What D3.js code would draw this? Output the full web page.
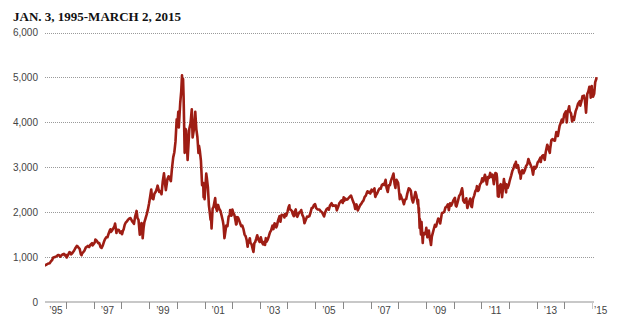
<!DOCTYPE html>
<html><head><meta charset="utf-8">
<script src="https://cdn.jsdelivr.net/npm/d3@7"></script>
<style>body{margin:0;background:#fff}svg{display:block}</style>
</head><body>
<svg id="chart" width="620" height="323"></svg>
<script>
const title = "JAN. 3, 1995-MARCH 2, 2015";
const yTickValues = [0, 1000, 2000, 3000, 4000, 5000, 6000];
const yearTickValues = d3.range(1996, 2016);
const yearLabelValues = [1995, 1997, 1999, 2001, 2003, 2005, 2007, 2009, 2011, 2013, 2015];
const domainStart = "1995-03-29";
const domainEnd = "2015-03-02";

// Nasdaq composite (approx. twice a month plus turning points)
const nasdaqCloses = [
["1995-01-03",743],["1995-01-16",770],["1995-01-31",755],["1995-02-15",790],["1995-02-28",793],["1995-03-15",808],["1995-03-31",817],["1995-04-13",830],["1995-04-28",843],["1995-05-15",858],["1995-05-31",864],["1995-06-15",905],["1995-06-30",933],["1995-07-14",985],["1995-07-31",1001],["1995-08-15",1005],["1995-08-31",1020],["1995-09-14",1045],["1995-09-29",1044],["1995-10-16",1010],["1995-10-31",1036],["1995-11-15",1060],["1995-11-30",1059],["1995-12-04",1070],["1995-12-15",1035],["1995-12-29",1052],
["1996-01-10",990],["1996-01-31",1060],["1996-02-15",1110],["1996-02-29",1100],["1996-03-08",1060],["1996-03-29",1101],["1996-04-15",1140],["1996-04-30",1191],["1996-05-22",1250],["1996-05-31",1243],["1996-06-14",1210],["1996-06-28",1185],["1996-07-15",1060],["1996-07-24",1042],["1996-07-31",1081],["1996-08-15",1110],["1996-08-30",1141],["1996-09-16",1210],["1996-09-30",1227],["1996-10-14",1250],["1996-10-31",1222],["1996-11-15",1270],["1996-11-29",1293],["1996-12-09",1310],["1996-12-16",1260],["1996-12-31",1291],
["1997-01-15",1330],["1997-01-22",1390],["1997-01-31",1380],["1997-02-14",1350],["1997-02-28",1309],["1997-03-14",1310],["1997-03-31",1222],["1997-04-14",1205],["1997-04-30",1261],["1997-05-15",1340],["1997-05-30",1400],["1997-06-13",1440],["1997-06-30",1442],["1997-07-15",1520],["1997-07-31",1594],["1997-08-08",1620],["1997-08-15",1560],["1997-08-29",1587],["1997-09-15",1640],["1997-09-30",1686],["1997-10-09",1745],["1997-10-27",1535],["1997-10-31",1594],["1997-11-14",1610],["1997-11-28",1601],["1997-12-15",1540],["1997-12-31",1570],
["1998-01-09",1510],["1998-01-21",1590],["1998-01-30",1619],["1998-02-13",1720],["1998-02-27",1771],["1998-03-13",1790],["1998-03-31",1835],["1998-04-15",1860],["1998-04-30",1868],["1998-05-15",1820],["1998-05-29",1779],["1998-06-15",1740],["1998-06-30",1895],["1998-07-20",2028],["1998-07-31",1872],["1998-08-14",1830],["1998-08-31",1499],["1998-09-15",1650],["1998-09-23",1760],["1998-09-30",1694],["1998-10-08",1419],["1998-10-20",1650],["1998-10-30",1771],["1998-11-13",1850],["1998-11-30",1950],["1998-12-15",2050],["1998-12-31",2193],
["1999-01-15",2350],["1999-01-29",2506],["1999-02-09",2310],["1999-02-26",2288],["1999-03-12",2410],["1999-03-31",2461],["1999-04-13",2520],["1999-04-23",2590],["1999-04-30",2543],["1999-05-14",2450],["1999-05-28",2471],["1999-06-14",2400],["1999-06-30",2686],["1999-07-16",2864],["1999-07-30",2638],["1999-08-10",2490],["1999-08-31",2739],["1999-09-15",2800],["1999-09-30",2746],["1999-10-15",2690],["1999-10-29",2966],["1999-11-15",3220],["1999-11-30",3336],["1999-12-15",3570],["1999-12-31",4069],
["2000-01-04",3901],["2000-01-14",4060],["2000-01-21",4235],["2000-01-28",3887],["2000-02-15",4420],["2000-02-29",4697],["2000-03-10",5048],["2000-03-15",4700],["2000-03-24",4963],["2000-03-31",4573],["2000-04-14",3321],["2000-04-20",3640],["2000-04-27",3850],["2000-05-05",3820],["2000-05-23",3164],["2000-05-31",3401],["2000-06-15",3860],["2000-06-30",3966],["2000-07-17",4289],["2000-07-28",3663],["2000-08-15",3850],["2000-08-31",4206],["2000-09-01",4234],["2000-09-15",3850],["2000-09-29",3673],["2000-10-13",3320],["2000-10-20",3480],["2000-10-31",3370],["2000-11-15",3140],["2000-11-30",2598],["2000-12-15",2650],["2000-12-20",2333],["2000-12-29",2471],
["2001-01-02",2291],["2001-01-24",2859],["2001-01-31",2773],["2001-02-15",2550],["2001-02-28",2152],["2001-03-15",1940],["2001-03-22",1830],["2001-03-30",1840],["2001-04-04",1638],["2001-04-18",2080],["2001-04-30",2116],["2001-05-22",2314],["2001-05-31",2110],["2001-06-15",2030],["2001-06-29",2161],["2001-07-13",2080],["2001-07-31",2027],["2001-08-15",1920],["2001-08-31",1805],["2001-09-10",1695],["2001-09-21",1423],["2001-09-28",1499],["2001-10-15",1700],["2001-10-31",1690],["2001-11-15",1900],["2001-11-30",1931],["2001-12-05",2046],["2001-12-20",1920],["2001-12-31",1950],
["2002-01-04",2059],["2002-01-15",1990],["2002-01-31",1934],["2002-02-15",1800],["2002-02-22",1725],["2002-02-28",1731],["2002-03-06",1890],["2002-03-19",1880],["2002-03-28",1845],["2002-04-15",1760],["2002-04-30",1688],["2002-05-08",1696],["2002-05-15",1700],["2002-05-31",1616],["2002-06-14",1500],["2002-06-28",1463],["2002-07-12",1374],["2002-07-24",1229],["2002-07-31",1328],["2002-08-15",1380],["2002-08-22",1420],["2002-08-30",1315],["2002-09-13",1290],["2002-09-30",1172],["2002-10-09",1114],["2002-10-21",1310],["2002-10-31",1330],["2002-11-15",1410],["2002-11-27",1487],["2002-12-13",1390],["2002-12-31",1336],
["2003-01-14",1440],["2003-01-31",1321],["2003-02-13",1280],["2003-02-28",1338],["2003-03-11",1271],["2003-03-21",1421],["2003-03-31",1341],["2003-04-15",1390],["2003-04-30",1464],["2003-05-15",1550],["2003-05-30",1596],["2003-06-17",1700],["2003-06-30",1623],["2003-07-14",1750],["2003-07-31",1735],["2003-08-05",1660],["2003-08-15",1700],["2003-08-29",1810],["2003-09-18",1910],["2003-09-30",1787],["2003-10-15",1940],["2003-10-31",1932],["2003-11-14",1930],["2003-11-21",1881],["2003-11-28",1960],["2003-12-15",1920],["2003-12-31",2003],
["2004-01-15",2110],["2004-01-26",2153],["2004-01-30",2066],["2004-02-13",2053],["2004-02-27",2030],["2004-03-10",1960],["2004-03-24",1910],["2004-03-31",1994],["2004-04-19",2060],["2004-04-30",1920],["2004-05-10",1897],["2004-05-31",1987],["2004-06-15",2000],["2004-06-30",2048],["2004-07-15",1940],["2004-07-30",1887],["2004-08-12",1752],["2004-08-31",1838],["2004-09-15",1900],["2004-09-30",1897],["2004-10-15",1910],["2004-10-29",1975],["2004-11-15",2090],["2004-11-30",2097],["2004-12-15",2160],["2004-12-30",2178],
["2005-01-14",2090],["2005-01-31",2062],["2005-02-15",2060],["2005-02-28",2052],["2005-03-15",2020],["2005-03-31",1999],["2005-04-15",1950],["2005-04-28",1904],["2005-05-13",2000],["2005-05-31",2068],["2005-06-15",2090],["2005-06-30",2057],["2005-07-15",2150],["2005-07-29",2185],["2005-08-05",2200],["2005-08-19",2140],["2005-08-31",2152],["2005-09-15",2140],["2005-09-30",2152],["2005-10-13",2040],["2005-10-31",2120],["2005-11-15",2200],["2005-11-30",2233],["2005-12-15",2260],["2005-12-30",2205],
["2006-01-11",2330],["2006-01-20",2250],["2006-01-31",2306],["2006-02-15",2280],["2006-02-28",2281],["2006-03-15",2310],["2006-03-31",2340],["2006-04-19",2370],["2006-04-28",2323],["2006-05-15",2240],["2006-05-31",2179],["2006-06-13",2072],["2006-06-30",2172],["2006-07-17",2040],["2006-07-31",2091],["2006-08-15",2150],["2006-08-31",2184],["2006-09-15",2230],["2006-09-29",2258],["2006-10-16",2340],["2006-10-31",2367],["2006-11-15",2440],["2006-11-22",2465],["2006-11-30",2432],["2006-12-15",2450],["2006-12-29",2415],
["2007-01-15",2500],["2007-01-31",2464],["2007-02-22",2530],["2007-02-27",2408],["2007-03-05",2340],["2007-03-15",2380],["2007-03-30",2422],["2007-04-16",2490],["2007-04-30",2525],["2007-05-15",2520],["2007-05-31",2605],["2007-06-15",2626],["2007-06-29",2603],["2007-07-19",2720],["2007-07-31",2546],["2007-08-16",2450],["2007-08-31",2596],["2007-09-14",2600],["2007-09-28",2702],["2007-10-15",2780],["2007-10-31",2859],["2007-11-15",2620],["2007-11-26",2540],["2007-11-30",2661],["2007-12-10",2720],["2007-12-31",2652],
["2008-01-15",2420],["2008-01-22",2290],["2008-01-31",2390],["2008-02-15",2320],["2008-02-29",2271],["2008-03-10",2212],["2008-03-17",2177],["2008-03-31",2279],["2008-04-15",2290],["2008-04-30",2413],["2008-05-19",2530],["2008-05-30",2523],["2008-06-16",2480],["2008-06-30",2293],["2008-07-15",2215],["2008-07-31",2326],["2008-08-15",2450],["2008-08-29",2368],["2008-09-15",2180],["2008-09-19",2273],["2008-09-29",1983],["2008-09-30",2092],["2008-10-10",1649],["2008-10-13",1844],["2008-10-27",1505],["2008-10-31",1721],["2008-11-04",1780],["2008-11-20",1316],["2008-11-28",1536],["2008-12-15",1508],["2008-12-31",1577],
["2009-01-06",1652],["2009-01-20",1440],["2009-01-30",1476],["2009-02-09",1591],["2009-02-23",1387],["2009-02-27",1378],["2009-03-09",1268],["2009-03-20",1457],["2009-03-31",1529],["2009-04-15",1626],["2009-04-30",1717],["2009-05-15",1680],["2009-05-29",1774],["2009-06-12",1858],["2009-06-30",1835],["2009-07-08",1747],["2009-07-31",1979],["2009-08-14",1985],["2009-08-31",2009],["2009-09-15",2102],["2009-09-30",2122],["2009-10-19",2176],["2009-10-30",2045],["2009-11-16",2197],["2009-11-30",2145],["2009-12-15",2201],["2009-12-31",2269],
["2010-01-19",2320],["2010-01-29",2147],["2010-02-08",2126],["2010-02-26",2238],["2010-03-15",2360],["2010-03-31",2398],["2010-04-23",2530],["2010-04-30",2461],["2010-05-07",2265],["2010-05-25",2210],["2010-05-31",2257],["2010-06-18",2310],["2010-06-30",2109],["2010-07-02",2092],["2010-07-20",2200],["2010-07-30",2255],["2010-08-09",2305],["2010-08-24",2124],["2010-08-31",2114],["2010-09-15",2300],["2010-09-30",2369],["2010-10-15",2468],["2010-10-29",2507],["2010-11-05",2579],["2010-11-16",2470],["2010-11-30",2498],["2010-12-15",2617],["2010-12-31",2653],
["2011-01-14",2755],["2011-01-28",2686],["2011-02-18",2834],["2011-02-28",2782],["2011-03-16",2617],["2011-03-31",2781],["2011-04-15",2764],["2011-04-29",2874],["2011-05-16",2783],["2011-05-31",2835],["2011-06-16",2623],["2011-06-30",2774],["2011-07-07",2872],["2011-07-22",2859],["2011-07-29",2756],["2011-08-08",2358],["2011-08-15",2555],["2011-08-19",2342],["2011-08-31",2579],["2011-09-16",2622],["2011-09-22",2455],["2011-09-30",2415],["2011-10-03",2335],["2011-10-27",2738],["2011-10-31",2684],["2011-11-10",2625],["2011-11-25",2441],["2011-11-30",2620],["2011-12-15",2539],["2011-12-30",2605],
["2012-01-13",2710],["2012-01-31",2814],["2012-02-15",2915],["2012-02-29",2967],["2012-03-15",3056],["2012-03-30",3092],["2012-04-02",3120],["2012-04-10",2992],["2012-04-26",3030],["2012-04-30",3046],["2012-05-15",2894],["2012-05-31",2827],["2012-06-04",2747],["2012-06-19",2930],["2012-06-29",2935],["2012-07-12",2866],["2012-07-31",2940],["2012-08-15",3030],["2012-08-31",3067],["2012-09-14",3183],["2012-09-28",3116],["2012-10-15",3044],["2012-10-31",2977],["2012-11-15",2836],["2012-11-30",3010],["2012-12-14",2971],["2012-12-31",3020],
["2013-01-15",3110],["2013-01-31",3142],["2013-02-19",3213],["2013-02-25",3116],["2013-02-28",3160],["2013-03-15",3249],["2013-03-28",3268],["2013-04-18",3166],["2013-04-30",3329],["2013-05-21",3502],["2013-05-31",3456],["2013-06-24",3320],["2013-06-28",3403],["2013-07-15",3607],["2013-07-31",3626],["2013-08-15",3602],["2013-08-30",3590],["2013-09-18",3783],["2013-09-30",3771],["2013-10-08",3694],["2013-10-31",3920],["2013-11-15",3985],["2013-11-29",4060],["2013-12-13",3999],["2013-12-31",4177],
["2014-01-22",4243],["2014-02-03",3997],["2014-02-14",4244],["2014-02-28",4308],["2014-03-06",4358],["2014-03-14",4245],["2014-03-31",4199],["2014-04-14",4022],["2014-04-30",4115],["2014-05-08",4051],["2014-05-30",4243],["2014-06-16",4321],["2014-06-30",4408],["2014-07-24",4473],["2014-07-31",4370],["2014-08-15",4464],["2014-08-29",4580],["2014-09-18",4593],["2014-09-30",4493],["2014-10-15",4216],["2014-10-31",4631],["2014-11-14",4688],["2014-11-28",4792],["2014-12-05",4781],["2014-12-16",4548],["2014-12-29",4806],["2014-12-31",4736],
["2015-01-15",4570],["2015-01-30",4635],["2015-02-13",4894],["2015-02-27",4964],["2015-03-02",5008]
];

const parseDate = d3.timeParse("%Y-%m-%d");
const data = nasdaqCloses.map(([d, v]) => ({date: parseDate(d), value: v}));

const svg = d3.select("#chart");
const W = 620, H = 323;
const plotLeft = 45, plotRight = 596.5, gridRight = 595, plotTop = 32.5, plotBottom = 302;

const x = d3.scaleTime().domain([parseDate(domainStart), parseDate(domainEnd)]).range([plotLeft, plotRight]);
const y = d3.scaleLinear().domain([0, 6000]).range([plotBottom, plotTop]);

// title
svg.append("text")
  .attr("x", 13).attr("y", 21)
  .attr("font-family", "'Liberation Serif', 'DejaVu Serif', serif")
  .attr("font-weight", "bold").attr("font-size", 13)
  .attr("fill", "#111")
  .text(title);

// gridlines
svg.append("g").selectAll("line")
  .data(yTickValues.filter(v => v > 0))
  .join("line")
  .attr("x1", plotLeft).attr("x2", gridRight)
  .attr("y1", d => Math.round(y(d)) + 0.5).attr("y2", d => Math.round(y(d)) + 0.5)
  .attr("stroke", "#9a9a9a").attr("stroke-width", 1).attr("stroke-dasharray", "1,1");

// y labels
svg.append("g").selectAll("text")
  .data(yTickValues)
  .join("text")
  .attr("x", 38).attr("y", d => y(d))
  .attr("dy", "0.35em")
  .attr("text-anchor", "end")
  .attr("font-family", "'Liberation Sans', Arial, sans-serif")
  .attr("font-size", 10)
  .attr("fill", "#444")
  .text(d => d3.format(",")(d));

// baseline
svg.append("line")
  .attr("x1", plotLeft).attr("x2", 594)
  .attr("y1", plotBottom).attr("y2", plotBottom)
  .attr("stroke", "#c8c8c8").attr("stroke-width", 2);

// year ticks
svg.append("g").selectAll("line")
  .data(yearTickValues)
  .join("line")
  .attr("x1", d => Math.round(x(new Date(d, 0, 1))) + 0.5)
  .attr("x2", d => Math.round(x(new Date(d, 0, 1))) + 0.5)
  .attr("y1", plotBottom).attr("y2", plotBottom + 7)
  .attr("stroke", (d, i) => i === yearTickValues.length - 1 ? "#c8c8c8" : "#888")
  .attr("stroke-width", 1);

// year labels
svg.append("g").selectAll("text")
  .data(yearLabelValues)
  .join("text")
  .attr("x", (d, i) => {
    const mid = x(new Date(d, 6, 1));
    if (i === 0) return Math.max(mid, plotLeft + 11);
    if (i === yearLabelValues.length - 1) return x(new Date(d, 0, 1)) + 2;
    return mid;
  })
  .attr("y", 314)
  .attr("text-anchor", (d, i) => i === yearLabelValues.length - 1 ? "start" : "middle")
  .attr("font-family", "'Liberation Sans', Arial, sans-serif")
  .attr("font-size", 10)
  .attr("fill", "#444")
  .text(d => "\u2019" + String(d).slice(2));

// clip & line
svg.append("clipPath").attr("id", "plotclip")
  .append("rect").attr("x", plotLeft).attr("y", 0).attr("width", W - plotLeft).attr("height", H);

const line = d3.line().x(d => x(d.date)).y(d => y(d.value)).curve(d3.curveLinear);
svg.append("path")
  .datum(data)
  .attr("clip-path", "url(#plotclip)")
  .attr("d", line)
  .attr("fill", "none")
  .attr("stroke", "#9e1d14")
  .attr("stroke-width", 2.6)
  .attr("stroke-linejoin", "round");
</script>
</body></html>
